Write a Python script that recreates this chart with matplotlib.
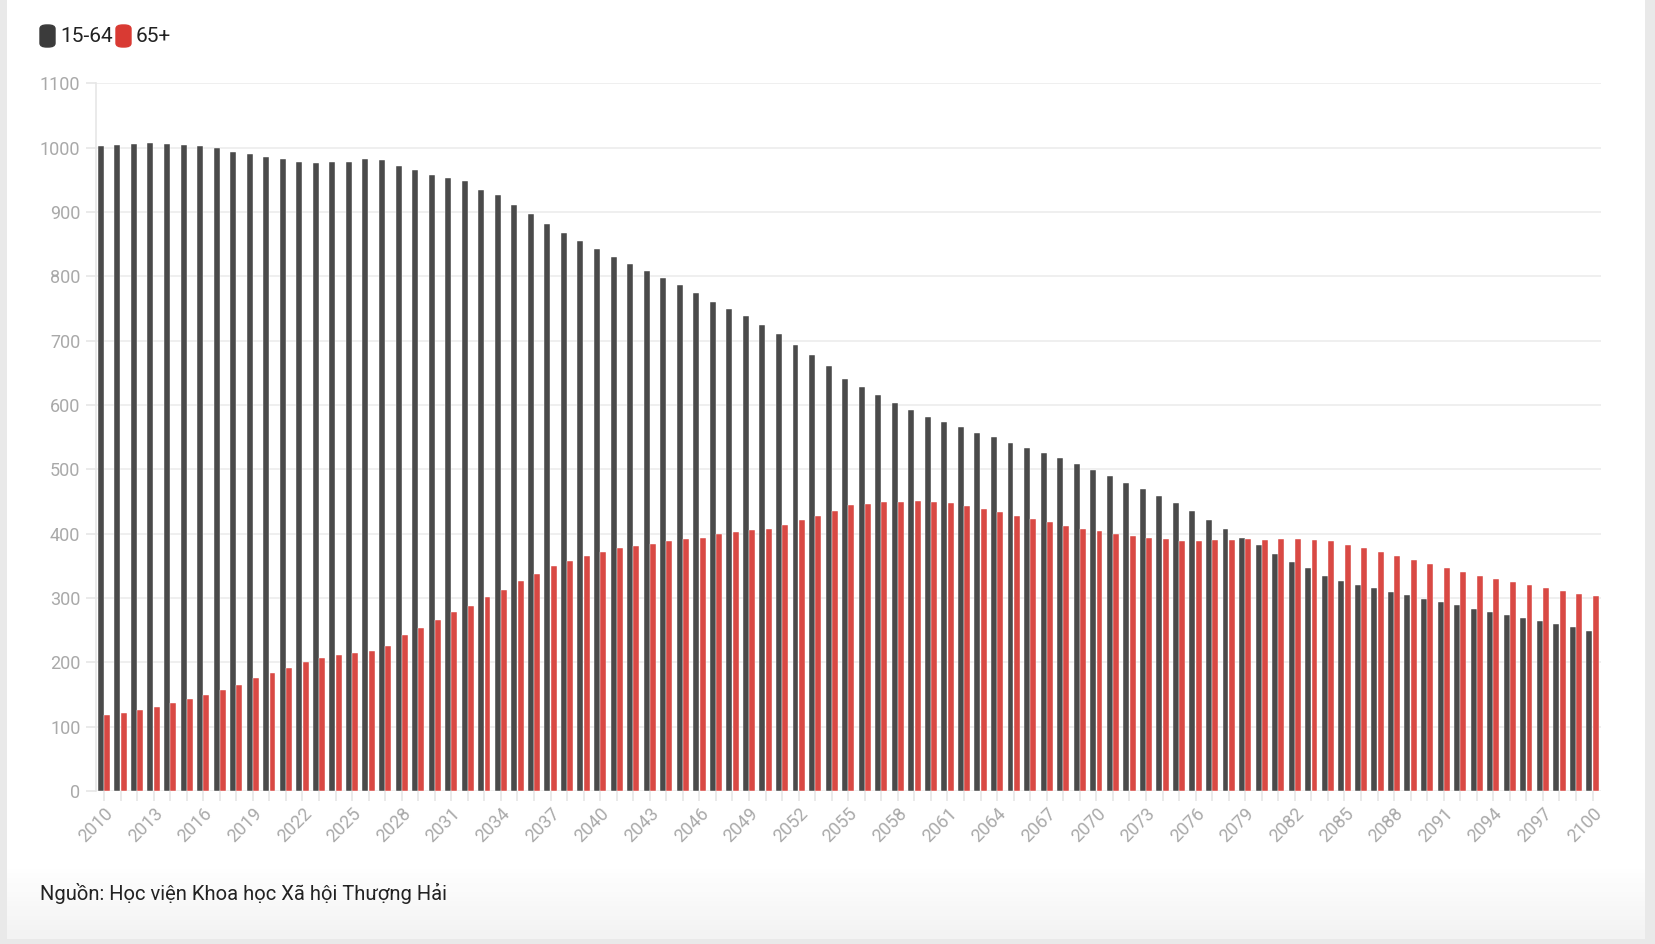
import numpy as np
import matplotlib.pyplot as plt
from matplotlib.patches import FancyBboxPatch
from matplotlib.colors import LinearSegmentedColormap

plt.rcParams['font.family'] = ['Roboto', 'Noto Sans', 'DejaVu Sans']

# data (2010-2100)
years = np.arange(2010, 2101)

age_15_64 = [1002, 1004, 1006, 1008, 1006, 1005, 1003, 999, 994, 990,
             985, 983, 978, 976, 978, 978, 982, 981, 972, 965,
             958, 953, 948, 935, 926, 911, 897, 882, 868, 855,
             842, 830, 820, 808, 797, 786, 774, 760, 749, 738,
             725, 710, 693, 678, 660, 641, 628, 615, 603, 592,
             582, 574, 566, 557, 550, 541, 533, 525, 517, 508,
             499, 489, 479, 469, 458, 447, 435, 421, 408, 394,
             383, 369, 356, 346, 335, 327, 321, 315, 309, 304,
             299, 294, 289, 283, 279, 274, 269, 265, 260, 255,
             249]

age_65_plus = [118, 122, 126, 131, 137, 143, 149, 157, 165, 175,
               183, 191, 201, 207, 211, 215, 217, 226, 242, 253,
               266, 278, 287, 301, 313, 326, 338, 349, 358, 366,
               372, 378, 381, 384, 389, 391, 394, 400, 403, 406,
               408, 413, 421, 427, 435, 444, 446, 449, 450, 451,
               450, 447, 443, 438, 433, 428, 423, 418, 412, 408,
               404, 400, 397, 394, 391, 389, 389, 390, 390, 391,
               390, 391, 392, 390, 388, 383, 378, 372, 366, 359,
               353, 346, 341, 335, 330, 325, 320, 315, 311, 307,
               303]

series_names = ['15-64', '65+']
bar_colors = ['#4a4a4a', '#d94944']
legend_colors = ['#3b3b3b', '#d93a33']
source_text = 'Nguồn: Học viện Khoa học Xã hội Thượng Hải'

W, H = 1656, 944
fig = plt.figure(figsize=(W / 100, H / 100), dpi=100)
fig.patch.set_facecolor('#e9e9e9')

# white card, faint fade at the bottom
card = fig.add_axes([7 / W, 1 - 939 / H, (1645 - 7) / W, 939 / H], zorder=-5)
grad = np.ones((200, 1))
grad[184:, 0] = np.linspace(1, 0, 16)
fade = LinearSegmentedColormap.from_list('fade', ['#f3f3f3', '#ffffff'])
card.imshow(grad, aspect='auto', cmap=fade, vmin=0, vmax=1, extent=[0, 1, 0, 1])
card.axis('off')

ax = fig.add_axes([95.7 / W, 1 - 791 / H, (1600.8 - 95.7) / W, (791 - 83.4) / H])
ax.set_facecolor('none')

w = 0.36
ax.bar(years - 0.19, age_15_64, width=w, color=bar_colors[0],
       edgecolor='white', linewidth=0.3, zorder=3)
ax.bar(years + 0.19, age_65_plus, width=w, color=bar_colors[1],
       edgecolor='white', linewidth=0.3, zorder=3)

ax.set_xlim(2009.5, 2100.5)
ax.set_ylim(0, 1100)
ax.set_yticks(np.arange(0, 1101, 100))
ax.set_xticks(years[::3])
ax.set_xticks(years, minor=True)
ax.grid(axis='y', color='#ececec', linewidth=1.2, zorder=0)
ax.set_axisbelow(True)

for s in ['top', 'right', 'bottom']:
    ax.spines[s].set_visible(False)
ax.spines['left'].set_color('#e6e6e6')
ax.spines['left'].set_linewidth(1.2)

ax.tick_params(axis='y', colors='#e6e6e6', labelcolor='#a9a9a9',
               length=7, width=1.2, pad=4, labelsize=13)
ax.tick_params(axis='x', which='both', colors='#e6e6e6', labelcolor='#a9a9a9',
               length=7, width=1.2, pad=3, labelsize=13)
for lab in ax.get_xticklabels():
    lab.set_rotation(45)
    lab.set_ha('right')
    lab.set_rotation_mode('anchor')

# legend drawn as rounded swatches
x0 = 40
for name, col in zip(series_names, legend_colors):
    sw = FancyBboxPatch((x0 / W, 1 - 47 / H), 15 / W, 22 / H,
                        boxstyle='round,pad=0,rounding_size=0.004',
                        transform=fig.transFigure, color=col, zorder=5)
    fig.patches.append(sw)
    fig.text((x0 + 20) / W, 1 - 37 / H, name, fontsize=15,
             color='#222222', va='center', ha='left')
    x0 += 20 + (51 if name == '15-64' else 40) + 5

fig.text(40 / W, 1 - 893 / H, source_text, fontsize=14.5, color='#222222',
         va='center', ha='left')

fig.savefig('out.png', dpi=100, facecolor=fig.get_facecolor())
